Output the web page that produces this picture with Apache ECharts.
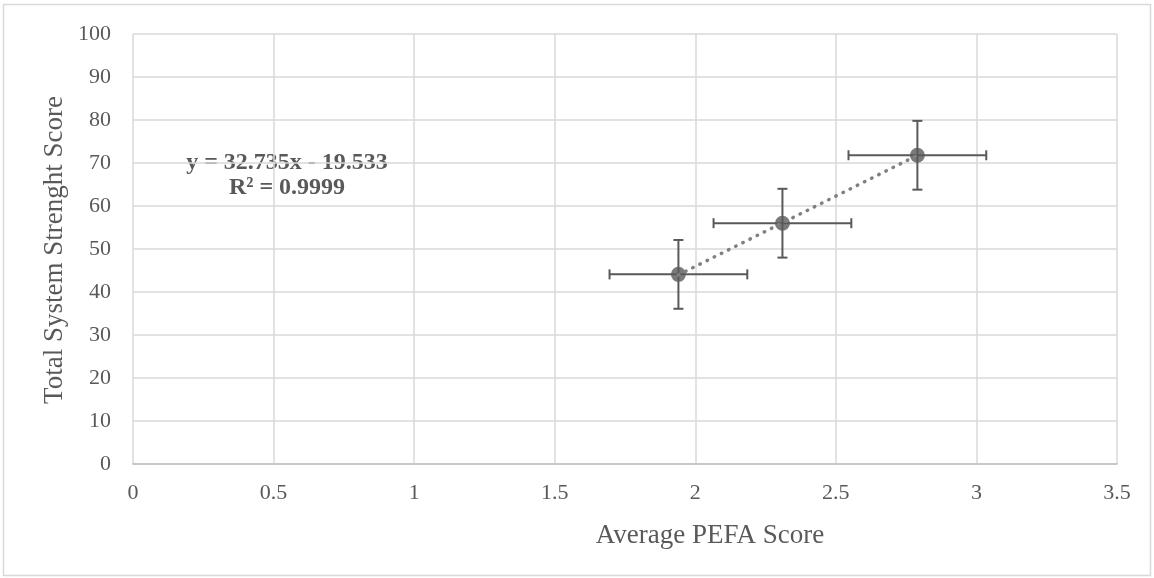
<!DOCTYPE html>
<html>
<head>
<meta charset="utf-8">
<script src="https://cdn.jsdelivr.net/npm/echarts@6/dist/echarts.min.js"></script>
<style>
  html, body { margin: 0; padding: 0; background: #fff; }
  #chart { width: 1154px; height: 578px; }
</style>
</head>
<body>
<div id="chart"></div>
<script>
// data
const pefaScore = [1.94, 2.31, 2.79];
const strengthScore = [44.1, 56.0, 71.8];
const pefaError = [0.245, 0.245, 0.245];
const strengthError = [8, 8, 8];

// linear trendline as printed on the chart
const slope = 32.735;
const intercept = -19.533;
const equationLines = ['y = 32.735x - 19.533', 'R² = 0.9999'];

const xTicks = [0, 3.5, 0.5];   // min, max, interval
const yTicks = [0, 100, 10];

const font = '"Liberation Serif", "Times New Roman", serif';
const grey = '#595959';

const myChart = echarts.init(document.getElementById('chart'));

const points = pefaScore.map((x, i) => [x, strengthScore[i], pefaError[i], strengthError[i]]);
const xMin = Math.min(...pefaScore);
const xMax = Math.max(...pefaScore);
const trend = [[xMin, slope * xMin + intercept], [xMax, slope * xMax + intercept]];

function errorBars(params, api) {
    const x = api.value(0), y = api.value(1), ex = api.value(2), ey = api.value(3);
    const left = api.coord([x - ex, y]);
    const right = api.coord([x + ex, y]);
    const top = api.coord([x, y + ey]);
    const bottom = api.coord([x, y - ey]);
    const cap = 5;
    const style = {stroke: grey, lineWidth: 2};
    const line = (x1, y1, x2, y2) => ({type: 'line', shape: {x1, y1, x2, y2}, style});
    return {
        type: 'group',
        children: [
            line(left[0], left[1], right[0], right[1]),
            line(left[0], left[1] - cap, left[0], left[1] + cap),
            line(right[0], right[1] - cap, right[0], right[1] + cap),
            line(top[0], top[1], bottom[0], bottom[1]),
            line(top[0] - cap, top[1], top[0] + cap, top[1]),
            line(bottom[0] - cap, bottom[1], bottom[0] + cap, bottom[1]),
        ]
    };
}

const option = {
    backgroundColor: '#fff',
    animation: false,
    textStyle: {fontFamily: font},
    grid: {left: 133, right: 37, top: 34, bottom: 114},
    xAxis: {
        type: 'value',
        min: xTicks[0], max: xTicks[1], interval: xTicks[2],
        axisLine: {show: true, lineStyle: {color: '#bfbfbf', width: 1.5}},
        axisTick: {show: false},
        axisLabel: {color: grey, fontSize: 22, fontFamily: font, margin: 18},
        splitLine: {show: true, lineStyle: {color: '#d9d9d9', width: 1.5}}
    },
    yAxis: {
        type: 'value',
        min: yTicks[0], max: yTicks[1], interval: yTicks[2],
        axisLine: {show: false},
        axisTick: {show: false},
        axisLabel: {color: grey, fontSize: 22, fontFamily: font, margin: 22},
        splitLine: {show: true, lineStyle: {color: '#d9d9d9', width: 1.5}}
    },
    graphic: [
        {
            type: 'rect', silent: true, z: -1,
            shape: {x: 3.5, y: 4.5, width: 1147, height: 571},
            style: {fill: 'none', stroke: '#d9d9d9', lineWidth: 1.5}
        },
        {
            // x axis title (sits right of the plot centre, as in the original)
            type: 'text', x: 710, y: 536,
            style: {
                text: 'Average PEFA Score', fill: grey,
                font: '27px ' + font, textAlign: 'center', textVerticalAlign: 'middle'
            }
        },
        {
            type: 'text', x: 55, y: 250, rotation: Math.PI / 2,
            style: {
                text: 'Total System Strenght Score', fill: grey,
                font: '27px ' + font, textAlign: 'center', textVerticalAlign: 'middle'
            }
        },
        {
            type: 'text', x: 287, y: 175,
            style: {
                text: equationLines.join('\n'), fill: grey,
                font: 'bold 24px ' + font, lineHeight: 25,
                textAlign: 'center', textVerticalAlign: 'middle'
            }
        }
    ],
    series: [
        {
            type: 'custom',
            renderItem: errorBars,
            data: points,
            z: 2
        },
        {
            type: 'scatter',
            data: points.map(p => [p[0], p[1]]),
            symbol: 'circle',
            symbolSize: 15,
            itemStyle: {color: grey},
            z: 3
        },
        {
            type: 'line',
            data: trend,
            symbol: 'none',
            lineStyle: {color: '#808080', width: 3.5, type: [0.5, 7.5], cap: 'round'},
            z: 4
        }
    ]
};

option && myChart.setOption(option);
</script>
</body>
</html>
